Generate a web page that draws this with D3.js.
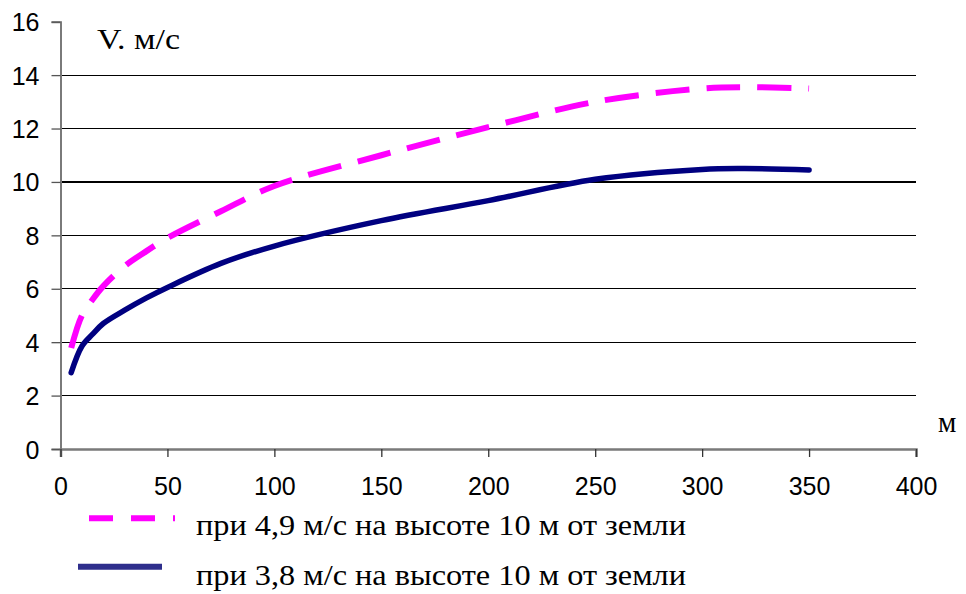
<!DOCTYPE html>
<html>
<head>
<meta charset="utf-8">
<script src="https://cdn.jsdelivr.net/npm/d3@7"></script>
<style>
  html, body { margin: 0; padding: 0; background: #fff; }
  svg { display: block; }
</style>
</head>
<body>
<svg id="chart" width="966" height="594"></svg>
<script>
// ---- data ----
const distances = [5, 10, 15, 20, 30, 40, 50, 75, 100, 150, 200, 250, 300, 320, 350];
const seriesHigh = [3.78, 5.0, 5.6, 6.1, 6.85, 7.4, 7.9, 8.9, 9.85, 11.0, 12.05, 13.0, 13.5, 13.55, 13.5];
const seriesLow  = [2.86, 3.85, 4.3, 4.7, 5.2, 5.65, 6.05, 6.95, 7.6, 8.55, 9.3, 10.1, 10.47, 10.5, 10.45];
const xTicks = [0, 50, 100, 150, 200, 250, 300, 350, 400];
const yTicks = [0, 2, 4, 6, 8, 10, 12, 14, 16];
const seriesNames = ["при 4,9 м/с на высоте 10 м от земли", "при 3,8 м/с на высоте 10 м от земли"];
const yTitle = "V. м/с";
const xTitle = "м";

const svg = d3.select("#chart");
const x = d3.scaleLinear().domain([0, 400]).range([60.5, 916]);
const y = d3.scaleLinear().domain([0, 16]).range([449, 21.7]);

// gridlines
svg.append("g").selectAll("line")
  .data(yTicks.filter(t => t > 0 && t < 16))
  .join("line")
  .attr("x1", x(0)).attr("x2", x(400))
  .attr("y1", d => y(d)).attr("y2", d => y(d))
  .attr("stroke", "#000").attr("stroke-width", 1.2)
  .attr("shape-rendering", "crispEdges");

// y axis
const yAxis = svg.append("g").attr("transform", `translate(${x(0)},0)`)
  .call(d3.axisLeft(y).tickValues(yTicks).tickSize(9).tickPadding(12).tickFormat(d3.format("d")));
yAxis.select(".domain").attr("stroke", "#7a7a7a").attr("stroke-width", 2);
yAxis.selectAll(".tick line").attr("stroke", "#555").attr("stroke-width", 1.3);
yAxis.selectAll("text").attr("font-family", "'Liberation Sans', Arial, sans-serif")
  .attr("font-size", 25).attr("fill", "#000").attr("dy", "0.36em");

// x axis
const xAxis = svg.append("g").attr("transform", `translate(0,${y(0)})`)
  .call(d3.axisBottom(x).tickValues(xTicks).tickSize(8).tickPadding(20).tickFormat(d3.format("d")));
xAxis.select(".domain").attr("stroke", "#7a7a7a").attr("stroke-width", 2.5);
xAxis.selectAll(".tick line").attr("stroke", "#333").attr("stroke-width", 1.3);
xAxis.selectAll("text").attr("font-family", "'Liberation Sans', Arial, sans-serif")
  .attr("font-size", 25).attr("fill", "#000");

// lines
const line = d3.line().x(d => x(d[0])).y(d => y(d[1])).curve(d3.curveCatmullRom.alpha(0.5));
const dataHigh = distances.map((d, i) => [d, seriesHigh[i]]);
const dataLow = distances.map((d, i) => [d, seriesLow[i]]);

svg.append("path").datum(dataLow).attr("d", line)
  .attr("fill", "none").attr("stroke", "#000080").attr("stroke-width", 5.5)
  .attr("stroke-linecap", "round").attr("stroke-linejoin", "round");
svg.append("path").datum(dataHigh).attr("d", line)
  .attr("fill", "none").attr("stroke", "#FF00FF").attr("stroke-width", 6)
  .attr("stroke-dasharray", "34,17");

// titles
svg.append("text").attr("x", 97).attr("y", 49).text(yTitle)
  .attr("font-family", "'Liberation Serif', 'Times New Roman', serif").attr("font-size", 30)
  .attr("textLength", 83).attr("lengthAdjust", "spacingAndGlyphs");
svg.append("text").attr("x", 938).attr("y", 432).text(xTitle)
  .attr("font-family", "'Liberation Serif', 'Times New Roman', serif").attr("font-size", 29);

// legend
const lg = svg.append("g");
lg.append("line").attr("x1", 89).attr("x2", 175).attr("y1", 518.3).attr("y2", 518.3)
  .attr("stroke", "#FF00FF").attr("stroke-width", 6).attr("stroke-dasharray", "24,18");
lg.append("line").attr("x1", 78).attr("x2", 162).attr("y1", 566.7).attr("y2", 566.7)
  .attr("stroke", "#2e2e8c").attr("stroke-width", 6);
lg.selectAll("text.leg").data(seriesNames).join("text")
  .attr("class", "leg")
  .attr("x", 196).attr("y", (d, i) => 535 + i * 50)
  .text(d => d)
  .attr("font-family", "'Liberation Serif', 'Times New Roman', serif").attr("font-size", 30)
  .attr("textLength", 490).attr("lengthAdjust", "spacingAndGlyphs");
</script>
</body>
</html>
